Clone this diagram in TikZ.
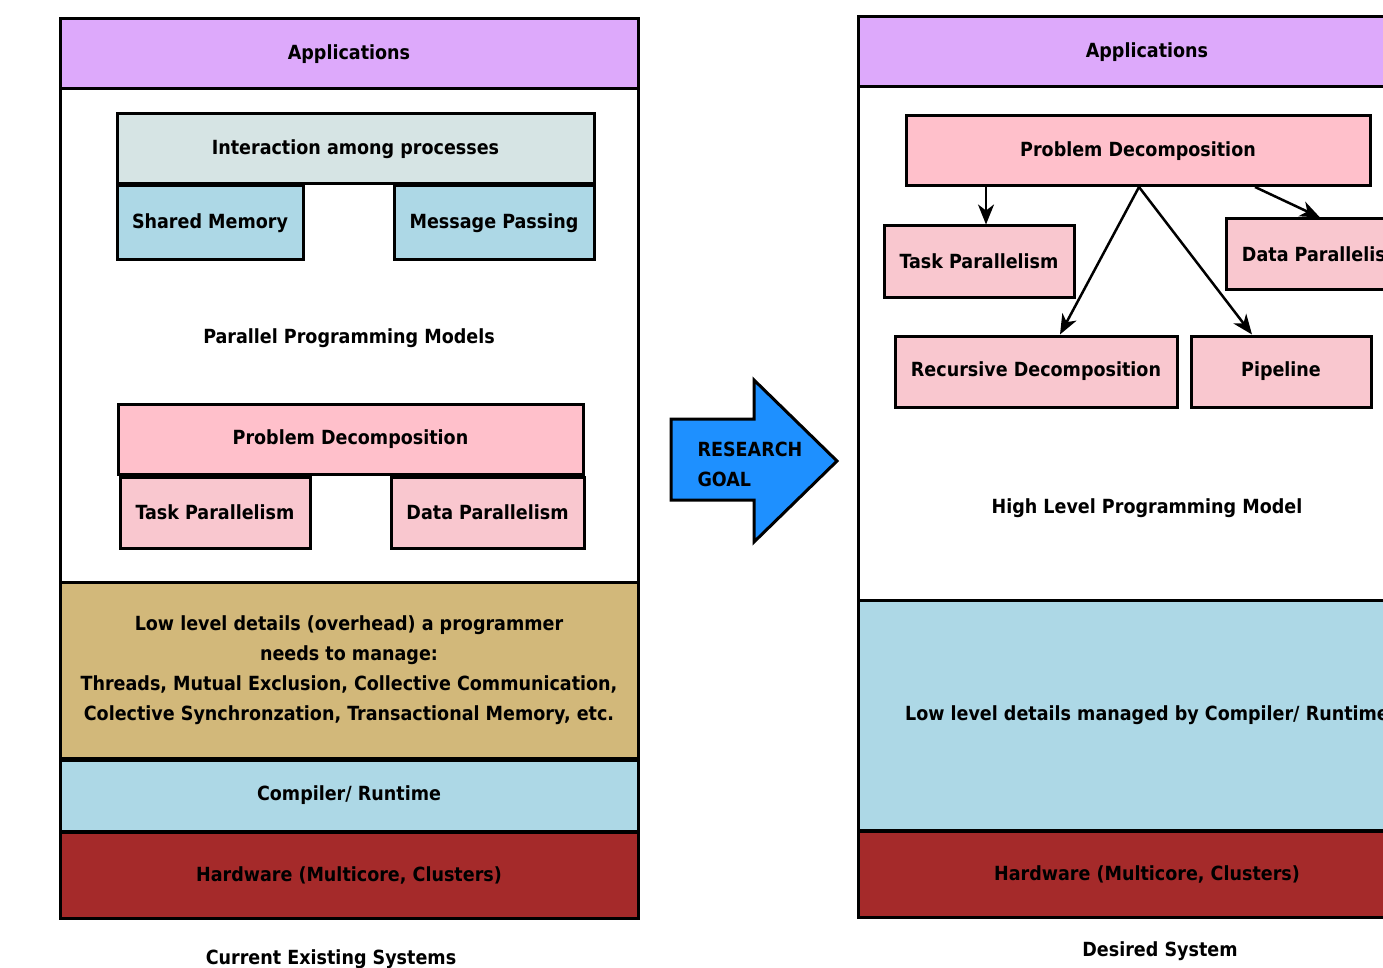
\documentclass[tikz,border=0pt]{standalone}
\usepackage{fontspec}
\setmainfont{DejaVu Sans Condensed}
\usetikzlibrary{arrows.meta}
\definecolor{appc}{HTML}{DDA9FB}
\definecolor{interc}{HTML}{D6E4E4}
\definecolor{lblue}{HTML}{ADD8E6}
\definecolor{pinkc}{HTML}{FFC0CB}
\definecolor{pink2}{HTML}{F9C7CF}
\definecolor{tanc}{HTML}{D2B87A}
\definecolor{hwc}{HTML}{A52A2A}
\definecolor{goalc}{HTML}{1E90FF}
\tikzset{
  lbl/.style={font=\bfseries\fontsize{19.5}{30}\selectfont, text=black},
  box/.style={draw=black, line width=3pt, inner sep=0pt, lbl},
  conn/.style={draw=black, line width=2.5pt, -{Stealth[length=20pt,width=16pt,inset=6pt]}},
}
\begin{document}
\begin{tikzpicture}[x=1pt,y=-1pt]
\useasboundingbox (0,0) rectangle (1383,968);
\clip (0,0) rectangle (1383,968);
\fill[white] (0,0) rectangle (1383,968);
% ---------- left panel ----------
\node[box, fill=white, minimum width=578, minimum height=899] (lframe) at (349,468.5) {};
\node[box, fill=appc, minimum width=578, minimum height=70] (lapp) at (349,54) {Applications};
\node[box, fill=interc, minimum width=477, minimum height=70] (inter) at (355.5,149) {Interaction among processes};
\node[box, fill=lblue, minimum width=186, minimum height=74] (shm) at (210,223) {Shared Memory};
\node[box, fill=lblue, minimum width=200, minimum height=74] (msg) at (494,223) {Message Passing};
\node[lbl] (ppm) at (349,338) {Parallel Programming Models};
\node[box, fill=pinkc, minimum width=465, minimum height=70] (lpd) at (350.5,439) {Problem Decomposition};
\node[box, fill=pink2, minimum width=190, minimum height=71] (ltp) at (215,512.5) {Task Parallelism};
\node[box, fill=pink2, minimum width=193, minimum height=71] (ldp) at (487.5,512.5) {Data Parallelism};
\node[box, fill=tanc, minimum width=578, minimum height=176] (low) at (349,670) {};
\node[lbl, align=center] (lowt) at (349,670) {Low level details (overhead) a programmer\\needs to manage:\\Threads, Mutual Exclusion, Collective Communication,\\Colective Synchronzation, Transactional Memory, etc.};
\node[box, fill=lblue, minimum width=578, minimum height=71] (comp) at (349,795.5) {Compiler/ Runtime};
\node[box, fill=hwc, minimum width=578, minimum height=86] (lhw) at (349,875) {Hardware (Multicore, Clusters)};
\node[lbl] (lcap) at (331,959) {Current Existing Systems};
% ---------- research goal arrow ----------
\draw[line width=3pt, fill=goalc, line join=miter]
  (671,419) -- (754,419) -- (754,380) -- (837,461) -- (754,542) -- (754,500) -- (671,500) -- cycle;
\node[lbl, align=left, anchor=west] (goal) at (694,464) {RESEARCH\\GOAL};
% ---------- right panel ----------
\node[box, fill=white, minimum width=578, minimum height=899] (rframe) at (1147,466.5) {};
\node[box, fill=appc, minimum width=578, minimum height=70] (rapp) at (1147,52) {Applications};
\node[box, fill=pinkc, minimum width=464, minimum height=70] (rpd) at (1138,151) {Problem Decomposition};
\node[box, fill=pink2, minimum width=190, minimum height=71] (rtp) at (979,261.5) {Task Parallelism};
\node[box, fill=pink2, minimum width=194, minimum height=70] (rdp) at (1323,254) {Data Parallelism};
\node[box, fill=pink2, minimum width=282, minimum height=71] (rrd) at (1036,371.5) {Recursive Decomposition};
\node[box, fill=pink2, minimum width=180, minimum height=71] (rpl) at (1281,371.5) {Pipeline};
\node[lbl] (hlpm) at (1147,508) {High Level Programming Model};
\node[box, fill=lblue, minimum width=578, minimum height=230] (rlow) at (1147,715) {Low level details managed by Compiler/ Runtime};
\node[box, fill=hwc, minimum width=578, minimum height=86] (rhw) at (1147,874) {Hardware (Multicore, Clusters)};
\node[lbl] (rcap) at (1160,951) {Desired System};
% connectors
\coordinate (pdm) at (1139,187);
\coordinate (tpx) at (986,0);
\draw[conn] (rpd.south -| tpx) -- (rtp.north -| tpx);
\draw[conn] (pdm) -- (rrd.north -| 1060,0);
\draw[conn] (pdm) -- (rpl.north -| 1252,0);
\draw[conn] (1255,187) -- (rdp.north -| 1320,0);
\end{tikzpicture}
\end{document}
